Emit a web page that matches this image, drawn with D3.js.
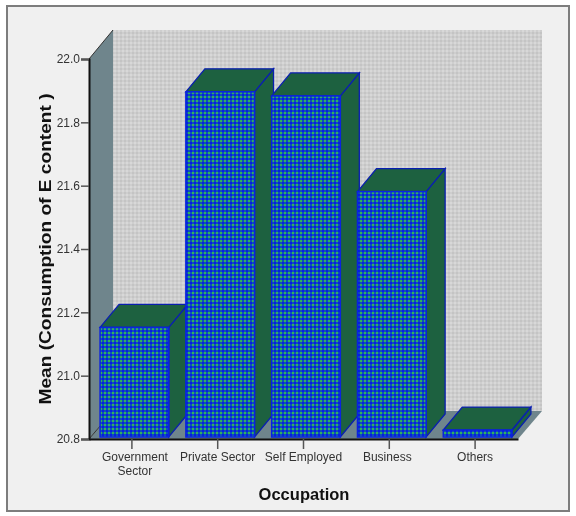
<!DOCTYPE html>
<html>
<head>
<meta charset="utf-8">
<script src="https://cdn.jsdelivr.net/npm/d3@7"></script>
<style>
  html, body { margin: 0; padding: 0; background: #fff; }
  svg { display: block; filter: blur(0.35px); }
  .tick-label { font-family: "Liberation Sans", Arial, sans-serif; font-size: 12px; fill: #333; }
  .axis-title { font-family: "Liberation Sans", Arial, sans-serif; font-weight: bold; fill: #111; }
</style>
</head>
<body>
<div id="chart"></div>
<script>
const categories = [["Government", "Sector"], ["Private Sector"], ["Self Employed"], ["Business"], ["Others"]];
const means = [21.146, 21.89, 21.877, 21.575, 20.822];
const yTicks = [20.8, 21.0, 21.2, 21.4, 21.6, 21.8, 22.0];
const yTitle = "Mean (Consumption of E content )";
const xTitle = "Occupation";

const width = 576, height = 516;
const svg = d3.select("#chart").append("svg").attr("width", width).attr("height", height);

const x = d3.scaleBand().domain(d3.range(categories.length)).range([89, 518]).paddingInner(0.2).paddingOuter(0.1);
const y = d3.scaleLinear().domain([20.8, 22.0]).range([439, 59]);

// depth of the fake 3d box and of the bars
const wallDx = 24, wallDy = -28;
const barDx = 19, barDy = -23;
const barLift = 2, barShift = 2.5;

const defs = svg.append("defs");
function gingham(id, base, dot, mid) {
  const p = defs.append("pattern").attr("id", id)
    .attr("patternUnits", "userSpaceOnUse").attr("width", 4).attr("height", 4);
  p.append("rect").attr("width", 4).attr("height", 4).attr("fill", base);
  p.append("rect").attr("width", 2).attr("height", 4).attr("fill", mid);
  p.append("rect").attr("width", 4).attr("height", 2).attr("fill", mid);
  p.append("rect").attr("width", 2).attr("height", 2).attr("fill", dot);
}
gingham("wall-pat", "#d8d8d8", "#c4c4c4", "#cecece");
gingham("bar-pat", "#0520e0", "#30b060", "#1050b8");

// frame
svg.append("rect").attr("x", 7).attr("y", 6).attr("width", 562).attr("height", 505)
  .attr("fill", "#f0f0f0").attr("stroke", "#7d7d7d").attr("stroke-width", 2);

const x0 = x.range()[0], x1 = x.range()[1], yTop = y(22.0), yBot = y(20.8);
const poly = p => p.map(d => d.join(",")).join(" ");

// back wall, side wall, floor
svg.append("rect").attr("x", x0 + wallDx).attr("y", yTop - 29)
  .attr("width", x1 - x0).attr("height", yBot - yTop + 1).attr("fill", "url(#wall-pat)");
svg.append("polygon")
  .attr("points", poly([[x0, yTop], [x0 + wallDx, yTop - 29], [x0 + wallDx, yBot + wallDy], [x0, yBot]]))
  .attr("fill", "#6f858c");
svg.append("polygon")
  .attr("points", poly([[x0, yBot], [x0 + wallDx, yBot + wallDy], [x1 + wallDx, yBot + wallDy], [x1, yBot]]))
  .attr("fill", "#6f858c");
svg.append("line").attr("x1", x0).attr("y1", yTop).attr("x2", x0 + wallDx).attr("y2", yTop - 29)
  .attr("stroke", "#333");
svg.append("line").attr("x1", x0).attr("y1", yBot).attr("x2", x0 + wallDx).attr("y2", yBot + wallDy)
  .attr("stroke", "#333");

// bars
const bars = svg.selectAll(".bar").data(means).enter().append("g").attr("class", "bar");
const stroke = "#0a1fb0";
bars.append("polygon")
  .attr("points", (d, i) => {
    const r = x(i) + barShift + x.bandwidth(), t = y(d) - barLift, b = yBot - barLift;
    return poly([[r, t], [r + barDx, t + barDy], [r + barDx, b + barDy], [r, b]]);
  })
  .attr("fill", "#1d6140").attr("stroke", stroke).attr("stroke-width", 1.3);
bars.append("polygon")
  .attr("points", (d, i) => {
    const l = x(i) + barShift, r = l + x.bandwidth(), t = y(d) - barLift;
    return poly([[l, t], [l + barDx, t + barDy], [r + barDx, t + barDy], [r, t]]);
  })
  .attr("fill", "#1d6140").attr("stroke", stroke).attr("stroke-width", 1.3);
bars.append("rect")
  .attr("x", (d, i) => x(i) + barShift)
  .attr("y", d => y(d) - barLift)
  .attr("width", x.bandwidth())
  .attr("height", d => yBot - y(d))
  .attr("fill", "url(#bar-pat)").attr("stroke", "#0a22e0").attr("stroke-width", 1.5);

// axes
const yAxis = svg.append("g").attr("transform", `translate(${x0},0)`)
  .call(d3.axisLeft(y).tickValues(yTicks).tickFormat(d3.format(".1f")).tickSize(8).tickPadding(1));
yAxis.selectAll("text").attr("class", "tick-label").attr("font-size", null).attr("font-family", null).style("fill", "#333");
yAxis.selectAll("line").attr("stroke", "#555").attr("stroke-width", 1.5);
yAxis.select(".domain").attr("stroke", "#111").attr("stroke-width", 2);

const xAxis = svg.append("g").attr("transform", `translate(0,${yBot})`)
  .call(d3.axisBottom(x).tickFormat("").tickSize(10).tickSizeOuter(0));
xAxis.selectAll("line").attr("stroke", "#555").attr("stroke-width", 1.5);
xAxis.select(".domain").attr("stroke", "#111").attr("stroke-width", 2);

// first and fourth labels sit a little off their ticks in the original
svg.selectAll(".cat-label").data(categories).enter().append("text")
  .attr("class", "tick-label")
  .attr("text-anchor", "middle")
  .attr("y", 461)
  .each(function(lines, i) {
    const nudge = i === 0 ? 3 : i === 3 ? -2 : 0;
    d3.select(this).selectAll("tspan").data(lines).enter().append("tspan")
      .attr("x", x(i) + x.bandwidth() / 2 + nudge)
      .attr("dy", (d, k) => k ? 14 : 0)
      .text(d => d);
  });

svg.append("text").attr("class", "axis-title").attr("text-anchor", "middle")
  .attr("font-size", 16.5)
  .attr("x", 304).attr("y", 500).text(xTitle);
svg.append("text").attr("class", "axis-title").attr("text-anchor", "middle")
  .attr("font-size", 16.5)
  .attr("textLength", 311).attr("lengthAdjust", "spacingAndGlyphs")
  .attr("transform", "translate(51,249) rotate(-90)").text(yTitle);
</script>
</body>
</html>
